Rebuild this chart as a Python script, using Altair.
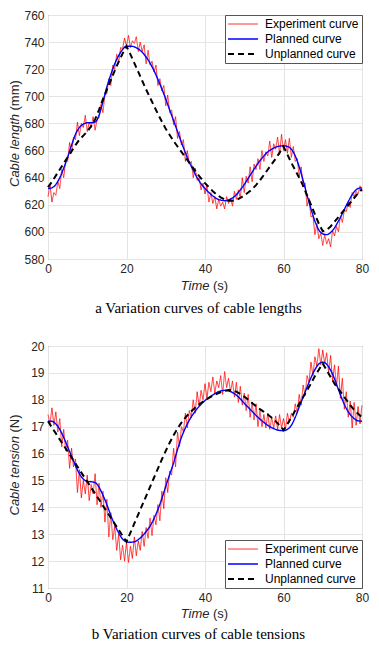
import altair as alt
import pandas as pd

SERIES = ["Experiment curve", "Planned curve", "Unplanned curve"]
COLORS = ["#ff0000", "#0000ff", "#000000"]
DASHES = [[1, 0], [1, 0], [6, 4]]
WIDTHS = [0.8, 2.0, 2.0]

# ---------- panel a: cable length (mm), experiment sampled every 0.5 s ----------
len_exp = [626, 635, 622, 629, 627, 637, 632, 646, 640, 653,
           652, 666, 658, 670, 668, 681, 671, 680, 677, 686,
           674, 681, 677, 685, 675, 683, 684, 694, 688, 701,
           702, 713, 708, 723, 720, 731, 725, 736, 735, 743,
           737, 745, 736, 741, 739, 744, 733, 740, 733, 738,
           724, 734, 723, 726, 718, 723, 708, 713, 704, 708,
           693, 701, 688, 690, 679, 685, 669, 674, 664, 668,
           652, 660, 650, 652, 640, 647, 638, 640, 631, 636,
           628, 634, 622, 629, 621, 626, 617, 624, 619, 622,
           617, 626, 621, 625, 619, 630, 624, 631, 625, 640,
           629, 641, 636, 648, 637, 650, 646, 654, 646, 660,
           652, 659, 656, 667, 655, 665, 661, 670, 657, 672,
           660, 668, 658, 669, 655, 663, 652, 654, 641, 648,
           633, 636, 619, 625, 611, 612, 598, 606, 595, 599,
           590, 598, 591, 595, 589, 601, 597, 604, 600, 612,
           607, 616, 615, 622, 618, 629, 626, 630, 628, 634,
           630]
# planned / unplanned sampled every 1 s
len_plan = [632, 632.5, 635, 640, 647, 655, 664, 672, 677, 679.5,
            680.5, 680.5, 681, 686, 696, 707, 716, 724, 730, 734.5,
            737, 737, 736.5, 735, 732.5, 729, 724.5, 719, 712.5, 705.5,
            698, 690, 682, 674, 666, 658.5, 651.5, 645.5, 640, 635.5,
            632, 629, 626.5, 624.5, 623.5, 623, 623.5, 625, 627.5, 631,
            635, 639.5, 644, 648.5, 652.5, 656, 659, 661, 662.5, 663.3,
            663.5, 663, 661, 656, 648, 638, 627, 617, 608, 601.5,
            598.5, 598, 599.5, 603, 608, 613.5, 619.5, 625, 629.5, 632,
            632.5]
len_unpl = [633, 637, 641.5, 646, 650.5, 655, 659.5, 664, 668, 671,
            674, 678, 683, 690, 698, 705, 712, 719, 725.5, 731.5,
            737, 731, 724.5, 718, 711.5, 705, 699, 693, 687, 681.5,
            676, 671.5, 667, 663, 659, 655, 651, 647, 643, 639.5,
            636, 633, 630, 627.5, 625.5, 624, 623, 623, 623.5, 625,
            627, 629, 631.5, 634.5, 638, 642, 646, 650, 654, 658.5,
            663, 657, 651, 645.5, 640, 634, 627, 620, 613, 606,
            600.5, 601.5, 604, 607.5, 611, 614.5, 618, 621.5, 625, 628.5,
            631.5]

# ---------- panel b: cable tension (N) ----------
ten_exp = [17.45, 17.1, 17.7, 17.05, 17.55, 16.8, 17.3, 16.25, 16.9, 16.1,
           16.5, 15.45, 16.2, 15.5, 15.8, 14.55, 15.4, 14.35, 15.0, 14.5,
           15.2, 14.25, 14.85, 14.5, 15.25, 14.1, 14.9, 14.0, 14.6, 13.45,
           14.3, 12.9, 13.8, 12.8, 13.3, 12.4, 13.0, 12.05, 12.6, 12.0,
           12.7, 11.95, 12.55, 12.1, 12.9, 12.2, 12.75, 12.4, 13.1, 12.55,
           13.25, 12.85, 13.6, 12.95, 13.7, 13.35, 14.1, 13.5, 14.6, 13.95,
           15.1, 14.55, 15.35, 15.2, 16.2, 15.5, 16.8, 16.25, 17.0, 16.8,
           17.5, 16.95, 17.6, 17.35, 18.0, 17.5, 18.3, 17.75, 18.35, 18.0,
           18.6, 18.05, 18.65, 18.3, 18.85, 18.25, 18.7, 18.45, 18.9, 18.2,
           19.05, 18.45, 18.8, 18.3, 18.7, 18.1, 18.65, 17.9, 18.5, 17.8,
           18.25, 17.6, 18.2, 17.35, 17.9, 17.25, 17.85, 17.0, 17.6, 17.0,
           17.45, 16.95, 17.5, 16.9, 17.35, 16.95, 17.4, 16.9, 17.45, 16.95,
           17.3, 16.9, 17.5, 17.15, 17.5, 17.35, 17.85, 17.5, 18.2, 17.8,
           18.55, 18.15, 18.9, 18.65, 19.4, 18.9, 19.6, 19.25, 19.9, 19.3,
           19.85, 19.35, 19.75, 19.0, 19.65, 18.7, 19.3, 18.5, 19.25, 18.05,
           18.8, 17.65, 18.3, 17.35, 17.95, 16.95, 17.9, 17.05, 17.75, 17.1,
           17.8]
ten_plan = [17.2, 17.2, 17.1, 16.9, 16.6, 16.25, 15.9, 15.55, 15.25, 15.05,
            14.96, 14.95, 14.92, 14.75, 14.45, 14.1, 13.7, 13.35, 13.05, 12.82,
            12.72, 12.7, 12.72, 12.8, 12.93, 13.1, 13.3, 13.58, 13.92, 14.32,
            14.78, 15.22, 15.65, 16.15, 16.6, 16.95, 17.24, 17.47, 17.67, 17.83,
            17.97, 18.08, 18.18, 18.27, 18.33, 18.35, 18.33, 18.27, 18.17, 18.03,
            17.87, 17.72, 17.57, 17.42, 17.28, 17.16, 17.05, 16.96, 16.9, 16.86,
            16.85, 16.9, 17.05, 17.35, 17.73, 18.1, 18.47, 18.82, 19.12, 19.33,
            19.4, 19.32, 19.1, 18.78, 18.38, 18.0, 17.68, 17.45, 17.3, 17.22,
            17.2]
ten_unpl = [17.2, 16.97, 16.75, 16.52, 16.3, 16.08, 15.85, 15.63, 15.4, 15.18,
            14.96, 14.73, 14.51, 14.29, 14.06, 13.84, 13.61, 13.39, 13.17, 12.94,
            12.72, 13.06, 13.4, 13.74, 14.08, 14.42, 14.76, 15.1, 15.44, 15.78,
            16.1, 16.4, 16.68, 16.93, 17.15, 17.34, 17.5, 17.64, 17.77, 17.88,
            17.98, 18.07, 18.15, 18.22, 18.28, 18.33, 18.36, 18.35, 18.3, 18.22,
            18.12, 18.0, 17.88, 17.76, 17.65, 17.55, 17.45, 17.33, 17.2, 17.05,
            16.87, 17.1, 17.35, 17.6, 17.85, 18.1, 18.35, 18.6, 18.88, 19.12,
            19.35, 19.1, 18.85, 18.6, 18.4, 18.2, 18.0, 17.8, 17.62, 17.48,
            17.35]

X_TICKS = [0, 20, 40, 60, 80]
LEN_TICKS = [580, 600, 620, 640, 660, 680, 700, 720, 740, 760]
TEN_TICKS = [11, 12, 13, 14, 15, 16, 17, 18, 19, 20]

W = 314
AX = "#262626"


def series_df(values, step, name):
    return pd.DataFrame({"t": [i * step for i in range(len(values))],
                         "v": values, "s": name})


def text_layer(label, x, y, **kw):
    style = dict(font="Liberation Sans", fontSize=13, color=AX)
    style.update(kw)
    return alt.Chart(pd.DataFrame({"label": [label]})).mark_text(**style).encode(
        text="label:N", x=alt.value(x), y=alt.value(y))


def panel(exp, plan, unpl, ydom, yticks, ytitle, yunit, ysplit, caption, orient,
          height, time_y, cap_y):
    legend = alt.Legend(
        title=None, orient=orient, offset=0,
        symbolType="M-5,0H5", symbolSize=36, symbolOffset=9, labelOffset=16,
        labelFont="Liberation Sans", labelFontSize=12, labelColor="#000000",
        strokeColor="#555555", fillColor="white", padding=3, rowPadding=3,
    )
    x = alt.X("t:Q", scale=alt.Scale(domain=[0, 80], nice=False),
              axis=alt.Axis(values=X_TICKS, title=None, format="d"))
    y = alt.Y("v:Q", scale=alt.Scale(domain=ydom, nice=False, zero=False),
              axis=alt.Axis(values=yticks, title=None, format="d"))
    enc = dict(
        x=x, y=y,
        color=alt.Color("s:N", scale=alt.Scale(domain=SERIES, range=COLORS), legend=legend),
        strokeDash=alt.StrokeDash("s:N", scale=alt.Scale(domain=SERIES, range=DASHES), legend=legend),
        strokeWidth=alt.StrokeWidth("s:N", scale=alt.Scale(domain=SERIES, range=WIDTHS), legend=legend),
    )
    red = alt.Chart(series_df(exp, 0.5, SERIES[0])).mark_line().encode(**enc)
    blue = alt.Chart(series_df(plan, 1, SERIES[1])).mark_line(interpolate="monotone").encode(**enc)
    black = alt.Chart(series_df(unpl, 1, SERIES[2])).mark_line().encode(**enc)

    texts = [
        text_layer(ytitle, -33, ysplit, angle=270, align="right", baseline="middle", fontStyle="italic"),
        text_layer(yunit, -33, ysplit - 3.5, angle=270, align="left", baseline="middle"),
        text_layer("Time", 161.5, time_y, align="right", baseline="middle", fontStyle="italic"),
        text_layer("(s)", 165, time_y, align="left", baseline="middle"),
        text_layer(caption, 150.5, cap_y, align="center", baseline="middle",
                   font="Liberation Serif", fontSize=15, color="#000000"),
    ]
    return alt.layer(red, blue, black, *texts).properties(width=W, height=height)


top = panel(len_exp, len_plan, len_unpl, [580, 760], LEN_TICKS,
            "Cable length", "(mm)", 99, "a  Variation curves of cable lengths", "top-right",
            244, 271, 292.5)
bottom = panel(ten_exp, ten_plan, ten_unpl, [11, 20], TEN_TICKS,
               "Cable tension", "(N)", 90, "b  Variation curves of cable tensions", "bottom-right",
               242, 268, 287.5)

chart = (
    alt.vconcat(top, bottom, spacing=23)
    .resolve_scale(color="independent", strokeDash="independent", strokeWidth="independent")
    .properties(padding={"left": 0, "top": 0, "right": 0, "bottom": 0}, background="white")
    .configure_view(stroke="#555555", strokeWidth=1)
    .configure_axis(labelFont="Liberation Sans", labelFontSize=12, labelColor=AX,
                    gridColor="#e4e4e4", gridWidth=1, domain=False, ticks=False,
                    labelPadding=4, labelFlush=False)
)

chart.save("out.html", embed_options={"renderer": "svg", "actions": False})
